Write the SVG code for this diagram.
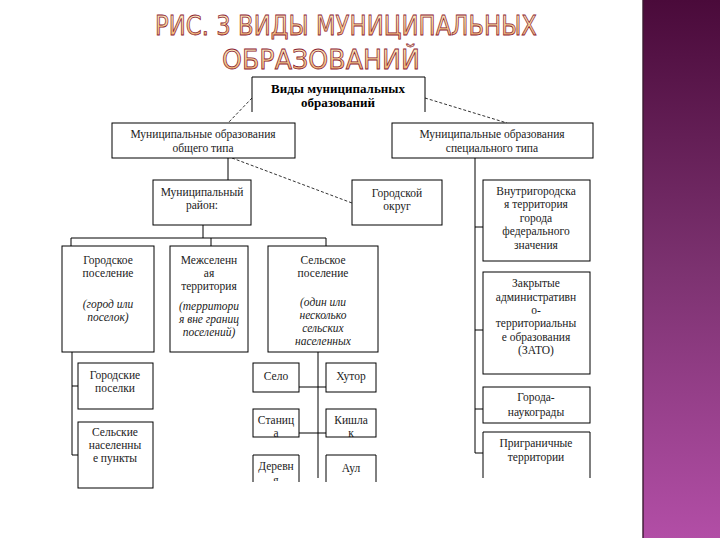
<svg xmlns="http://www.w3.org/2000/svg" width="720" height="540" viewBox="0 0 720 540">
<defs>
<linearGradient id="band" x1="0" y1="0" x2="0" y2="1">
<stop offset="0" stop-color="#4a0a3a"/>
<stop offset="0.5" stop-color="#7c3270"/>
<stop offset="1" stop-color="#b24ea6"/>
</linearGradient>
<linearGradient id="titleFill" x1="0" y1="0" x2="0" y2="1">
<stop offset="0" stop-color="#fff4d0"/>
<stop offset="0.55" stop-color="#f6cf8e"/>
<stop offset="1" stop-color="#eca264"/>
</linearGradient>
<clipPath id="cutBottom"><rect x="0" y="0" width="720" height="481"/></clipPath>
<style>
.box{fill:#fff;stroke:#000;stroke-width:1}
.open{fill:none;stroke:#000;stroke-width:1}
.t{font-family:"Liberation Serif","DejaVu Serif","Times New Roman",serif;font-size:11.5px;fill:#222;text-anchor:middle}
.i{font-style:italic}
.b{font-weight:bold;font-size:13px;fill:#000}
.ln{fill:none;stroke:#000;stroke-width:1}
.dash{fill:none;stroke:#333;stroke-width:1;stroke-dasharray:3 2}
.title{font-family:"DejaVu Sans","Noto Sans",sans-serif;font-size:27px;fill:url(#titleFill);stroke:#8a2234;stroke-width:0.8;text-anchor:start}
</style>
</defs>
<rect x="0" y="0" width="720" height="540" fill="#fff"/>
<rect x="643" y="0" width="77" height="538" fill="url(#band)"/>
<rect x="642" y="0" width="2" height="538" fill="#3a1a30" opacity="0.7"/>

<g id="title">
<text class="title" x="155" y="35" textLength="382" lengthAdjust="spacingAndGlyphs">РИС. 3 ВИДЫ МУНИЦИПАЛЬНЫХ</text>
<text class="title" x="222" y="69" textLength="198" lengthAdjust="spacingAndGlyphs">ОБРАЗОВАНИЙ</text>
</g>

<g id="connectors">
<line class="dash" x1="252" y1="98" x2="228" y2="123"/>
<line class="dash" x1="425" y1="98" x2="507" y2="123"/>
<line class="ln" x1="228" y1="158" x2="228" y2="180"/>
<line class="dash" x1="232" y1="158" x2="352" y2="203"/>
<line class="ln" x1="203" y1="225" x2="203" y2="238"/>
<line class="ln" x1="71" y1="238" x2="326" y2="238"/>
<line class="ln" x1="71" y1="238" x2="71" y2="246"/>
<line class="ln" x1="211" y1="238" x2="211" y2="246"/>
<line class="ln" x1="326" y1="238" x2="326" y2="246"/>
<line class="ln" x1="475" y1="158" x2="475" y2="453"/>
<line class="ln" x1="475" y1="227" x2="483" y2="227"/>
<line class="ln" x1="475" y1="330" x2="483" y2="330"/>
<line class="ln" x1="475" y1="409" x2="483" y2="409"/>
<line class="ln" x1="475" y1="453" x2="483" y2="453"/>
<line class="ln" x1="72" y1="352" x2="72" y2="455"/>
<line class="ln" x1="72" y1="386" x2="78" y2="386"/>
<line class="ln" x1="72" y1="455" x2="78" y2="455"/>
<line class="ln" x1="318" y1="352" x2="318" y2="478"/>
<line class="ln" x1="299" y1="387" x2="326" y2="387"/>
<line class="ln" x1="299" y1="433" x2="326" y2="433"/>
</g>

<g id="root">
<path class="open" d="M252 112 V77 H425 V112"/>
<text class="t b" x="338" y="93">Виды муниципальных</text>
<text class="t b" x="338" y="107">образований</text>
</g>

<g id="general">
<rect class="box" x="112" y="123" width="183" height="35"/>
<text class="t" x="203" y="138">Муниципальные образования</text>
<text class="t" x="203" y="152">общего типа</text>
</g>

<g id="special">
<rect class="box" x="392" y="123" width="201" height="35"/>
<text class="t" x="492" y="138">Муниципальные образования</text>
<text class="t" x="492" y="152">специального типа</text>
</g>

<g id="district">
<rect class="box" x="153" y="180" width="98" height="45"/>
<text class="t" x="202" y="196">Муниципальный</text>
<text class="t" x="202" y="209">район:</text>
</g>

<g id="urban-okrug">
<rect class="box" x="352" y="180" width="90" height="45"/>
<text class="t" x="397" y="197">Городской</text>
<text class="t" x="397" y="210">округ</text>
</g>

<g id="federal-city">
<rect class="box" x="483" y="180" width="107" height="81"/>
<text class="t" x="536" y="195">Внутригородска</text>
<text class="t" x="536" y="208">я территория</text>
<text class="t" x="536" y="222">города</text>
<text class="t" x="536" y="235">федерального</text>
<text class="t" x="536" y="249">значения</text>
</g>

<g id="zato">
<rect class="box" x="483" y="272" width="107" height="102"/>
<text class="t" x="536" y="287">Закрытые</text>
<text class="t" x="536" y="301">административн</text>
<text class="t" x="536" y="314">о-</text>
<text class="t" x="536" y="327">территориальны</text>
<text class="t" x="536" y="341">е образования</text>
<text class="t" x="536" y="354">(ЗАТО)</text>
</g>

<g id="naukograd">
<rect class="box" x="483" y="387" width="107" height="36"/>
<text class="t" x="536" y="401">Города-</text>
<text class="t" x="536" y="416">наукограды</text>
</g>

<g id="border">
<path class="open" d="M483 478 V432 H590 V478"/>
<text class="t" x="536" y="447">Приграничные</text>
<text class="t" x="536" y="461">территории</text>
</g>

<g id="urban-settlement">
<rect class="box" x="62" y="246" width="92" height="106"/>
<text class="t" x="108" y="264">Городское</text>
<text class="t" x="108" y="277">поселение</text>
<text class="t i" x="108" y="308">(город или</text>
<text class="t i" x="108" y="321">поселок)</text>
</g>

<g id="inter-settlement">
<rect class="box" x="170" y="246" width="78" height="106"/>
<text class="t" x="209" y="264">Межселенн</text>
<text class="t" x="209" y="277">ая</text>
<text class="t" x="209" y="290">территория</text>
<text class="t i" x="209" y="310">(территори</text>
<text class="t i" x="209" y="323">я вне границ</text>
<text class="t i" x="209" y="336">поселений)</text>
</g>

<g id="rural-settlement">
<rect class="box" x="268" y="246" width="110" height="106"/>
<text class="t" x="323" y="264">Сельское</text>
<text class="t" x="323" y="277">поселение</text>
<text class="t i" x="323" y="306">(один или</text>
<text class="t i" x="323" y="319">несколько</text>
<text class="t i" x="323" y="332">сельских</text>
<text class="t i" x="323" y="345">населенных</text>
</g>

<g id="towns">
<rect class="box" x="78" y="363" width="75" height="46"/>
<text class="t" x="115" y="379">Городские</text>
<text class="t" x="115" y="392">поселки</text>
</g>

<g id="rural-localities">
<rect class="box" x="78" y="422" width="75" height="66"/>
<text class="t" x="115" y="436">Сельские</text>
<text class="t" x="115" y="449">населенны</text>
<text class="t" x="115" y="462">е пункты</text>
</g>

<g id="selo">
<rect class="box" x="253" y="363" width="46" height="29"/>
<text class="t" x="276" y="380">Село</text>
</g>
<g id="khutor">
<rect class="box" x="326" y="363" width="50" height="29"/>
<text class="t" x="351" y="380">Хутор</text>
</g>
<g id="stanitsa">
<rect class="box" x="253" y="409" width="46" height="28"/>
<text class="t" x="276" y="424">Станиц</text>
<text class="t" x="276" y="437">а</text>
</g>
<g id="kishlak">
<rect class="box" x="326" y="409" width="50" height="28"/>
<text class="t" x="351" y="424">Кишла</text>
<text class="t" x="351" y="437">к</text>
</g>
<g id="derevnya">
<path class="open" d="M253 482 V455 H299 V482"/>
<text class="t" x="276" y="470">Деревн</text>
<text class="t" x="276" y="484" clip-path="url(#cutBottom)">я</text>
</g>
<g id="aul">
<path class="open" d="M326 482 V455 H376 V482"/>
<text class="t" x="351" y="472">Аул</text>
</g>
</svg>
